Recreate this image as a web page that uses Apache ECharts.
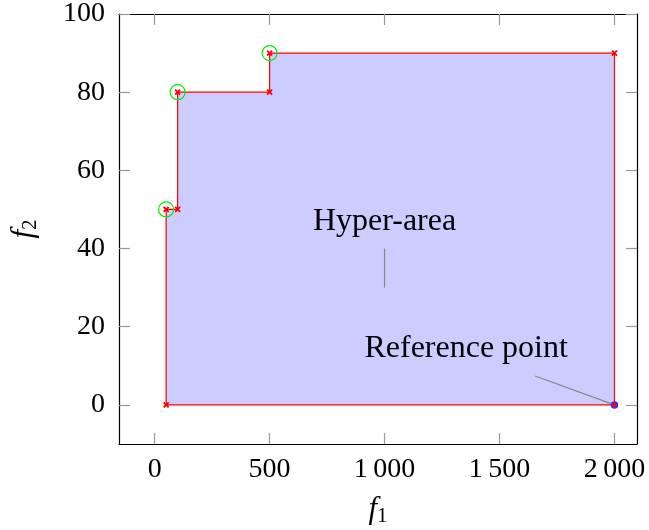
<!DOCTYPE html>
<html><head><meta charset="utf-8">
<script src="https://cdn.jsdelivr.net/npm/echarts@6/dist/echarts.min.js"></script>
<style>html,body{margin:0;padding:0;background:#fff}#c{width:649px;height:530px}</style>
</head><body><div id="c"></div>
<script>
// Data
const frontX = [50, 50, 100, 100, 500, 500, 2000, 2000];
const frontY = [0, 50, 50, 80, 80, 90, 90, 0];
const paretoX = [50, 100, 500];
const paretoY = [50, 80, 90];
const refPoint = [2000, 0];
const xTicks = [0, 500, 1000, 1500, 2000];
const yTicks = [0, 20, 40, 60, 80, 100];
const hyperLabel = {text: 'Hyper-area', at: [1000, 47], line: [[1000, 40], [1000, 30]]};
const refLabel = {text: 'Reference point', at: [1355, 14.5], line: [[1655, 7.4], [2000, 0]]};

const FONT = '"Liberation Serif", "DejaVu Serif", serif';
const FS = 28;
const polyData = frontX.map((x, i) => [x, frontY[i]]);
const fmtNum = v => {
  const s = String(v);
  return s.length > 3 ? s.slice(0, s.length - 3) + '\u2009' + s.slice(s.length - 3) : s;
};
const crossPath = 'path://M0,0L10,10M10,0L0,10';

const chart = echarts.init(document.getElementById('c'), null, {renderer: 'canvas'});
const tickStyle = {show: true, inside: true, length: 11, lineStyle: {color: '#999', width: 1.2}};
const axisLine = {show: true, onZero: false, lineStyle: {color: '#000', width: 1.2}};
chart.setOption({
  animation: false,
  grid: {left: 119, right: 12, top: 14, bottom: 86, containLabel: false, outerBoundsMode: 'none'},
  xAxis: [{
    type: 'value', min: -155, max: 2098, position: 'bottom',
    axisLine, splitLine: {show: false},
    axisTick: Object.assign({customValues: xTicks}, tickStyle),
    axisLabel: {customValues: xTicks, formatter: fmtNum, fontFamily: FONT, fontSize: FS, color: '#000', margin: 12},
    name: '{i|f}{s|1}', nameLocation: 'middle', nameGap: 48,
    nameTextStyle: {rich: {i: {fontFamily: FONT, fontStyle: 'italic', fontSize: 31, color: '#000'},
                           s: {fontFamily: FONT, fontSize: 21, color: '#000', padding: [14, 0, 0, 0]}}}
  }, {
    type: 'value', min: -155, max: 2098, position: 'top',
    axisLine, splitLine: {show: false},
    axisTick: Object.assign({customValues: xTicks}, tickStyle),
    axisLabel: {show: false}
  }],
  yAxis: [{
    type: 'value', min: -10, max: 100, position: 'left',
    axisLine, splitLine: {show: false},
    axisTick: Object.assign({customValues: yTicks}, tickStyle),
    axisLabel: {customValues: yTicks, fontFamily: FONT, fontSize: FS, color: '#000', margin: 14},
    name: '{i|f}{s|2}', nameLocation: 'middle', nameGap: 78, nameRotate: 90,
    nameTextStyle: {rich: {i: {fontFamily: FONT, fontStyle: 'italic', fontSize: 31, color: '#000'},
                           s: {fontFamily: FONT, fontSize: 21, color: '#000', padding: [14, 0, 0, 0]}}}
  }, {
    type: 'value', min: -10, max: 100, position: 'right',
    axisLine, splitLine: {show: false},
    axisTick: Object.assign({customValues: yTicks}, tickStyle),
    axisLabel: {show: false}
  }],
  series: [
    {
      type: 'custom', coordinateSystem: 'cartesian2d', data: [0], z: 1,
      renderItem: (params, api) => ({
        type: 'polygon',
        shape: {points: polyData.map(p => api.coord(p))},
        style: {fill: '#ccccff', stroke: '#ff0000', lineWidth: 1.2}
      })
    },
    {
      type: 'custom', coordinateSystem: 'cartesian2d', data: [0], z: 3,
      renderItem: (params, api) => ({
        type: 'group', children: [hyperLabel, refLabel].map(l => ({
          type: 'line',
          shape: (() => { const a = api.coord(l.line[0]), b = api.coord(l.line[1]); return {x1: a[0], y1: a[1], x2: b[0], y2: b[1]}; })(),
          style: {stroke: '#888', lineWidth: 1.2}
        }))
      })
    },
    {
      type: 'scatter', data: polyData, symbol: crossPath, symbolSize: 5, z: 4,
      itemStyle: {color: 'none', borderColor: '#ff0000', borderWidth: 1.8, opacity: 1}
    },
    {
      type: 'scatter', data: paretoX.map((x, i) => [x, paretoY[i]]), symbol: 'circle', symbolSize: 15, z: 5,
      itemStyle: {color: 'rgba(0,0,0,0)', borderColor: '#00ee00', borderWidth: 1.2, opacity: 1}
    },
    {
      type: 'scatter', data: [refPoint], symbol: 'circle', symbolSize: 6, z: 6,
      itemStyle: {color: '#ff0000', borderColor: '#3333ff', borderWidth: 1.5, opacity: 1}
    },
    {
      type: 'scatter', data: [hyperLabel.at, refLabel.at].map((p, i) => ({value: p, name: i ? refLabel.text : hyperLabel.text})),
      symbolSize: 0, z: 7, itemStyle: {opacity: 1},
      label: {show: true, position: 'inside', formatter: p => p.name, fontFamily: FONT, fontSize: 32,
              color: '#000', textBorderWidth: 0}
    }
  ]
});
</script></body></html>
